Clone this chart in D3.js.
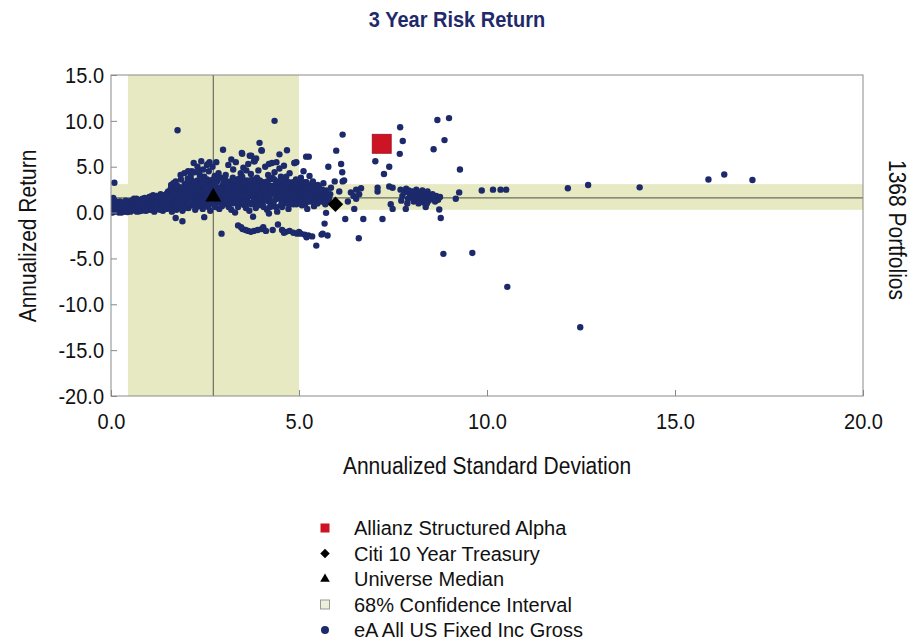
<!DOCTYPE html>
<html>
<head>
<meta charset="utf-8">
<script src="https://cdn.jsdelivr.net/npm/d3@7/dist/d3.min.js"></script>
<style>
  html, body { margin: 0; padding: 0; background: #fff; }
  svg { display: block; }
  text { font-family: "Liberation Sans", Arial, sans-serif; }
</style>
</head>
<body>
<svg id="chart" width="913" height="644"></svg>
<script>
// ---------- DATA ----------
const chartTitle = "3 Year Risk Return";
const xTicks = [0, 5, 10, 15, 20];
const yTicks = [15, 10, 5, 0, -5, -10, -15, -20];
const xLabel = "Annualized Standard Deviation";
const yLabel = "Annualized Return";
const sideLabel = "1368 Portfolios";

// [annualized std dev, annualized return]
const allianz = [7.2, 7.5];
const citi = [5.97, 0.9];
const universeMedian = [2.72, 1.6];
const ciX = [0.45, 5.0];     // 68% confidence interval on std dev
const ciY = [0.3, 3.1];      // 68% confidence interval on return

const lowRiskBand = [
  [0.05,0.3],[0.08,0.6],[0.1,0.1],[0.12,0.9],[0.15,0.4],[0.18,0.7],[0.2,0.2],[0.22,1.0],[0.25,0.5],[0.28,0.0],
  [0.3,0.8],[0.32,0.3],[0.35,1.1],[0.38,0.6],[0.4,0.2],[0.42,0.9],[0.45,0.45],[0.48,1.2],[0.5,0.7],[0.09,3.25],
  [0.06,1.6],[0.1,1.3],[0.52,0.1],[0.55,0.95],[0.58,0.5],[0.6,1.3],[0.62,0.25],[0.65,0.8],[0.68,1.5],[0.7,0.4],
  [0.72,1.05],[0.75,0.15],[0.78,0.7],[0.8,1.4],[0.82,0.35],[0.85,1.0],[0.88,0.55],[0.9,1.6],[0.92,0.2],[0.95,0.85],
  [0.98,1.25],[1.0,0.45],[1.02,1.7],[1.05,0.3],[1.08,1.1],[1.1,0.6],[1.12,1.9],[1.15,0.1],[1.18,1.4],[1.2,0.8],
  [1.22,0.35],[1.25,1.6],[1.28,1.0],[1.3,0.5],[1.32,2.0],[1.35,1.25],[1.38,0.2],[1.4,0.75],[1.42,1.8],[1.45,1.05],
  [1.48,0.4],[1.5,1.5],
  [0.03,0.8],[0.07,0.2],[0.13,0.5],[0.17,1.1],[0.23,0.3],[0.27,0.8],[0.33,0.55],[0.37,0.15],[0.43,0.65],[0.47,0.3],
  [0.53,0.6],[0.57,1.1],[0.63,0.7],[0.67,0.3],[0.73,0.6],[0.77,1.15],[0.83,0.8],[0.87,0.3],[0.93,1.1],[0.97,0.6],
  [1.03,0.9],[1.07,1.4],[1.13,0.6],[1.17,1.0],[1.23,1.3],[1.27,0.6],[1.33,0.9],[1.37,1.6],[1.43,1.3],[1.47,0.8],
  [0.02,0.5],[0.04,0.0],[0.06,1.0],[0.11,0.7],[0.14,0.2],[0.16,0.85],[0.19,0.45],[0.21,0.0],[0.24,1.2],[0.26,0.65],
  [0.29,0.35],[0.31,1.0],[0.34,0.1],[0.36,0.75],[0.39,1.3],[0.41,0.45],[0.44,0.05],[0.46,1.0],[0.49,0.55],[0.51,0.3],
  [0.54,1.3],[0.56,0.4],[0.59,0.85],[0.61,1.5],[0.64,0.5],[0.66,1.15],[0.69,0.1],[0.71,0.8],[0.74,1.35],[0.76,0.45],
  [0.79,1.0],[0.81,0.2],[0.84,1.5],[0.86,0.6],[0.89,1.2],[0.91,0.4],[0.94,1.45],[0.96,0.25],[0.99,0.95],[1.01,1.5],
  [1.04,0.6],[1.06,1.75],[1.09,0.4],[1.11,1.25],[1.14,1.7],[1.16,0.45],[1.19,1.1],[1.21,1.8],[1.24,0.55],[1.26,1.15],
  [1.29,1.75],[1.31,0.3],[1.34,1.4],[1.36,0.7],[1.39,1.9],[1.41,1.1],[1.44,0.5],[1.46,1.6],[1.49,2.1],[1.51,0.8]
];

const coreCloud = [
  [1.52,2.3],[1.55,0.6],[1.58,1.2],[1.6,3.0],[1.62,0.1],[1.63,1.8],[1.65,2.6],[1.68,0.9],[1.7,1.5],[1.72,3.4],
  [1.74,0.3],[1.76,2.1],[1.78,1.1],[1.8,2.8],[1.82,0.7],[1.84,1.9],[1.86,3.6],[1.88,1.3],[1.9,0.2],[1.92,2.4],
  [1.94,1.6],[1.96,3.1],[1.98,0.8],[2.0,2.0],
  [2.02,1.2],[2.04,3.7],[2.06,0.5],[2.08,2.6],[2.1,1.8],[2.12,4.0],[2.14,0.9],[2.16,3.0],[2.18,2.2],[2.2,1.4],
  [2.22,4.4],[2.24,0.3],[2.26,2.9],[2.28,1.7],[2.3,3.5],[2.32,0.7],[2.34,2.4],[2.36,4.1],[2.38,1.1],[2.4,3.2],
  [2.42,1.9],[2.44,0.4],[2.46,2.7],[2.48,3.9],[2.5,1.5],
  [2.52,2.1],[2.54,0.8],[2.56,3.6],[2.58,1.3],[2.6,4.5],[2.62,2.6],[2.64,0.2],[2.66,1.9],[2.68,3.1],[2.72,1.0],
  [2.74,2.8],[2.76,4.0],[2.78,0.6],[2.8,2.3],[2.82,3.4],[2.84,1.5],[2.86,4.3],[2.88,0.4],[2.9,2.0],[2.92,3.8],
  [2.94,1.2],[2.96,2.9],[2.6,1.6],[2.75,1.9],[2.85,2.5],
  [3.02,1.7],[3.05,4.1],[3.08,0.9],[3.1,2.9],[3.15,1.4],[3.18,3.4],[3.2,0.3],[3.22,2.2],[3.25,4.7],[3.28,1.1],
  [3.3,3.0],[3.35,1.9],[3.38,0.6],[3.4,3.7],[3.42,2.5],[3.45,4.3],[3.48,1.3],[3.5,2.8],[3.3,0.0],
  [3.55,0.8],[3.58,2.1],[3.6,3.5],[3.62,1.5],[3.68,0.2],[3.7,2.7],[3.72,4.2],[3.75,1.1],[3.78,3.1],[3.82,1.9],
  [3.85,0.5],[3.88,3.8],[3.9,2.3],[3.92,4.6],[3.95,1.4],[3.98,2.9],
  [4.02,0.9],[4.05,3.3],[4.08,1.7],[4.12,2.5],[4.15,0.3],[4.18,4.1],[4.2,1.2],[4.22,3.6],[4.25,2.0],[4.3,0.7],
  [4.32,2.9],[4.35,4.4],[4.38,1.5],[4.4,3.2],[4.42,0.1],[4.45,2.4],
  [4.5,1.8],[4.52,3.9],[4.55,0.6],[4.58,2.7],[4.62,1.3],[4.65,3.4],[4.7,2.1],[4.72,0.4],[4.75,4.3],[4.78,1.6],
  [4.8,3.0],[4.82,2.4],[4.85,0.9],[4.9,1.9],[4.92,3.6],[4.95,2.7],[4.98,1.2],
  [5.02,2.2],[5.05,3.8],[5.08,0.8],[5.1,1.6],[5.12,4.5],[5.15,2.9],[5.18,1.1],[5.2,3.3],[5.22,0.4],[5.25,2.0],
  [5.28,4.0],[5.3,1.4],[5.35,2.6],[5.4,0.7],[5.45,1.8],[5.5,3.0],
  [5.55,2.4],[5.6,1.2],[5.65,3.2],[5.7,0.9],[5.75,2.0],[5.8,1.6],[5.85,2.7],[5.9,1.0],[5.95,3.4],
  [1.53,1.0],[1.57,1.7],[1.61,2.1],[1.67,1.4],[1.71,2.5],[1.75,1.7],[1.79,0.5],[1.83,2.4],[1.87,1.8],[1.91,1.1],
  [1.95,2.7],[1.99,1.6],[2.03,2.3],[2.07,1.6],[2.11,2.9],[2.13,0.8],[2.17,1.9],[2.21,2.5],[2.25,1.3],[2.29,2.1],
  [2.33,3.1],[2.37,1.7],[2.41,2.6],[2.45,1.2],[2.49,2.3],[2.53,3.0],[2.57,1.7],[2.61,2.3],[2.65,3.3],[2.69,1.4],
  [2.73,2.2],[2.77,3.0],[2.81,1.8],[2.83,1.1],[2.87,2.7],[2.91,1.6],[2.95,2.3],[2.99,3.3],
  [3.03,2.4],[3.07,1.2],[3.11,2.0],[3.14,3.2],[3.17,2.6],[3.21,1.6],[3.24,3.8],[3.27,2.2],[3.31,1.5],[3.34,2.7],
  [3.37,3.3],[3.41,1.7],[3.44,2.2],[3.47,3.4],[3.51,1.9],[3.54,2.5],[3.57,3.1],[3.61,2.2],[3.64,1.1],[3.67,3.0],
  [3.71,1.8],[3.74,2.4],[3.77,3.6],[3.81,1.4],[3.84,2.6],[3.87,2.0],[3.91,3.2],[3.94,1.7],[3.97,2.2],
  [4.01,2.6],[4.04,1.4],[4.07,2.1],[4.11,3.0],[4.14,1.9],[4.17,2.6],[4.21,1.6],[4.24,2.9],[4.27,1.0],[4.31,2.3],
  [4.34,3.6],[4.37,2.1],[4.41,1.5],[4.44,2.9],[4.47,2.0],[4.51,3.2],[4.54,1.4],[4.57,2.3],[4.61,3.0],[4.64,2.0],
  [4.67,1.0],[4.71,2.9],[4.74,1.5],[4.77,2.5],[4.81,1.3],[4.84,3.3],[4.87,2.1],[4.91,1.5],[4.94,2.5],[4.97,3.1],
  [5.01,1.6],[5.04,2.8],[5.07,1.9],[5.11,2.4],[5.14,1.5],[5.17,3.3],[5.21,2.4],[5.24,1.7],[5.27,3.0],[5.31,2.1],
  [5.34,1.2],[5.38,2.9],[5.42,2.3],[5.47,1.3],[5.52,2.0],[5.58,1.7],[5.64,2.1],[5.7,1.5],
  [1.54,1.4],[1.59,2.6],[1.64,0.4],[1.66,3.2],[1.69,2.0],[1.73,1.0],[1.77,2.9],[1.81,1.5],[1.85,0.5],[1.89,2.7],
  [1.93,1.9],[1.97,0.5],[2.01,3.2],[2.05,1.0],[2.09,2.3],[2.15,3.5],[2.19,1.0],[2.23,3.3],[2.27,0.6],[2.31,2.6],
  [2.35,1.4],[2.39,3.7],[2.43,2.2],[2.47,0.9],[2.51,3.4],[2.55,1.9],[2.59,0.6],[2.63,2.9],[2.67,1.1],[2.71,3.6],
  [2.75,0.8],[2.79,2.6],[2.83,3.9],[2.87,1.3],[2.91,2.4],[2.95,0.7],[2.99,1.9],
  [3.04,3.6],[3.09,2.6],[3.13,0.6],[3.16,1.9],[3.19,2.9],[3.23,1.0],[3.26,2.6],[3.29,3.5],[3.33,2.1],[3.36,1.1],
  [3.39,2.9],[3.43,0.9],[3.46,1.9],[3.49,3.9],[3.53,1.2],[3.56,3.3],[3.59,0.5],[3.63,2.7],[3.66,1.8],[3.69,3.5],
  [3.73,0.9],[3.76,2.0],[3.79,2.8],[3.83,3.3],[3.86,1.1],[3.89,2.5],[3.93,0.8],[3.96,3.5],[3.99,1.9],[4.03,3.0],
  [4.06,0.6],[4.09,2.7],[4.13,1.3],[4.16,3.4],[4.19,2.2],[4.23,0.6],[4.26,2.5],[4.29,3.8],[4.33,1.2],[4.36,2.7],
  [4.39,0.6],[4.43,3.4],[4.46,1.7],[4.49,2.6],[4.53,0.9],[4.56,3.6],[4.59,1.9],[4.63,2.6],[4.66,3.9],[4.69,1.6],
  [4.73,3.3],[4.76,0.9],[4.79,2.1],[4.83,2.8],[4.86,1.7],[4.89,3.0],[4.93,0.9],[4.96,2.2],[4.99,3.5],[5.03,1.1],
  [5.06,2.5],[5.09,3.3],[5.13,1.9],[5.16,0.9],[5.19,2.7],[5.23,2.1],[5.26,1.2],[5.29,2.6],[5.33,1.8],[5.37,3.4],
  [5.41,1.6],[5.44,2.6],[5.49,1.0],[5.53,2.7],[5.57,1.3],[5.62,2.5],[5.67,1.8],[5.73,2.4],[5.78,1.2],[5.83,2.0]
];

const upperScatter = [
  [1.77,8.97],[2.35,4.6],[2.15,4.5],[2.45,4.7],[2.7,5.0],[2.98,6.85],[3.12,5.2],[3.32,5.5],[3.48,6.5],[3.2,5.8],
  [3.52,4.9],[3.65,5.3],[3.8,5.6],[3.69,6.2],[3.86,5.9],[3.95,7.6],[4.01,6.75],[4.1,5.0],[4.28,5.4],[4.48,4.8],
  [4.35,10.0],[4.48,6.35],[4.6,5.1],[4.68,6.8],[4.88,5.4],[5.26,6.1],[5.19,6.1],[5.78,5.0],[5.99,6.75],
  [1.85,4.1],[1.95,4.3],[2.05,4.5],[2.2,5.4],[2.3,5.0],[2.4,5.6],[2.55,5.2],[2.62,5.5],[2.58,5.3],[2.8,5.5],
  [3.49,6.4],[3.73,6.2],[4.0,6.8],[3.6,4.6],[3.82,5.6],[4.2,5.3],[4.4,5.5],[4.93,5.5],[4.88,5.4],
  [6.12,5.3],[6.15,4.4],[6.16,3.4],[6.2,3.5],[6.16,8.5]
];

const lowerScatter = [
  [1.72,-0.6],[1.9,-0.95],[2.48,-0.5],[2.94,-2.3],[3.38,-1.4],[3.5,-1.8],[3.65,-2.0],[3.8,-2.0],[3.78,-0.45],
  [3.58,-1.9],[3.72,-2.1],[3.9,-1.9],[4.0,-1.8],[4.05,-1.6],[4.2,-0.1],[4.44,-1.3],[4.12,-2.0],[4.55,-1.9],
  [4.65,-2.1],[4.75,-2.0],[4.85,-2.2],[4.95,-2.3],[4.6,-2.2],[5.05,-2.3],[5.15,-2.4],[5.25,-2.5],[5.35,-2.6],
  [5.2,-2.7],[5.46,-3.6],[5.72,-0.03],[5.68,-1.2],[5.63,-2.3],[5.76,-2.5],[5.6,-2.4],[6.23,-0.7],[6.71,-0.7],
  [6.59,-2.8],[7.22,-0.7],[3.46,-1.6],[4.3,-1.9],[5.0,-2.1]
];

const highRiskCluster = [
  [6.07,2.3],[6.38,2.2],[6.52,2.5],[6.65,2.65],[6.52,1.5],[6.47,0.4],[6.45,1.8],[6.3,1.2],[6.6,2.0],
  [7.03,5.6],[7.4,5.0],[7.26,4.2],[7.09,2.7],[7.09,2.3],[7.4,2.85],[7.49,2.7],[7.44,0.9],[7.49,0.4],
  [7.69,9.3],[7.76,7.8],[7.68,6.4],[7.7,2.5],[7.75,1.8],[7.8,2.2],[7.72,1.3],[7.84,0.4],[7.85,2.6],[7.9,1.5],
  [7.95,2.0],[7.88,1.0],[7.92,2.4],[8.0,1.7],[8.02,2.3],[8.05,1.2],[8.08,2.0],[8.1,1.5],[8.12,2.5],[8.15,1.8],
  [8.18,1.0],[8.2,2.2],[8.22,1.4],[8.25,1.9],[8.28,2.4],[8.3,1.6],[8.32,1.1],[8.35,2.1],[8.37,0.6],[8.4,1.7],
  [8.42,2.3],[8.45,1.3],[8.48,1.9],[8.5,1.5],[8.55,2.0],[8.6,1.6],[8.65,1.8],[8.7,1.4],[8.75,1.7],[8.73,0.33],
  [8.77,-0.6],[8.62,1.2],[8.4,1.0],[8.68,10.1],[8.99,10.3],[8.87,7.9],[8.58,6.9]
];

const outliers = [
  [8.84,-4.5],[9.28,4.7],[9.26,2.2],[9.17,1.5],[9.86,2.4],[10.16,2.5],[10.36,2.5],[10.51,2.5],[12.15,2.65],
  [12.69,3.0],[14.06,2.75],[15.89,3.6],[16.31,4.15],[17.06,3.55],[9.61,-4.4],[10.54,-8.1],[12.48,-12.5]
];

const legendItems = [
  { label: "Allianz Structured Alpha", kind: "square" },
  { label: "Citi 10 Year Treasury", kind: "diamond" },
  { label: "Universe Median", kind: "triangle" },
  { label: "68% Confidence Interval", kind: "band" },
  { label: "eA All US Fixed Inc Gross", kind: "circle" }
];

// ---------- STYLE ----------
const navy = "#1c2a6b";
const bandColor = "#e7e9c3";
const red = "#cc1424";
const stretch = 1.12; // reference text is slightly taller than it is wide

// ---------- DRAW ----------
const svg = d3.select("#chart");
const plot = { left: 111, right: 863, top: 75, bottom: 396 };

const x = d3.scaleLinear().domain([0, 20]).range([plot.left, plot.right]);
const y = d3.scaleLinear().domain([-20, 15]).range([plot.bottom, plot.top]);
const fmt = d => d.toFixed(1);

function label(tx, ty, rot, size, txt, opts = {}) {
  const t = svg.append("text")
    .attr("transform", `translate(${tx},${ty}) rotate(${rot}) scale(1,${stretch})`)
    .attr("text-anchor", opts.anchor || "middle")
    .attr("font-size", size)
    .attr("fill", opts.fill || "#111")
    .text(txt);
  if (opts.bold) t.attr("font-weight", "bold");
  return t;
}

// title
label(457, 27, 0, 20, chartTitle, { bold: true, fill: "#1f2a6a" });

const clipId = "plotclip";
svg.append("clipPath").attr("id", clipId).append("rect")
  .attr("x", plot.left).attr("y", plot.top)
  .attr("width", plot.right - plot.left).attr("height", plot.bottom - plot.top);

const inner = svg.append("g").attr("clip-path", `url(#${clipId})`);

// confidence bands
inner.append("rect")
  .attr("x", x(ciX[0])).attr("y", plot.top)
  .attr("width", x(ciX[1]) - x(ciX[0])).attr("height", plot.bottom - plot.top)
  .attr("fill", bandColor);
inner.append("rect")
  .attr("x", x(ciX[1])).attr("y", y(ciY[1]))
  .attr("width", plot.right - x(ciX[1])).attr("height", y(ciY[0]) - y(ciY[1]))
  .attr("fill", bandColor);
inner.append("rect")
  .attr("x", plot.left).attr("y", y(ciY[1]))
  .attr("width", x(ciX[0]) - plot.left).attr("height", y(ciY[0]) - y(ciY[1]))
  .attr("fill", bandColor);

// median lines
inner.append("line")
  .attr("x1", x(universeMedian[0])).attr("x2", x(universeMedian[0]))
  .attr("y1", plot.top).attr("y2", plot.bottom)
  .attr("stroke", "#55584a").attr("stroke-width", 1);
inner.append("line")
  .attr("x1", plot.left).attr("x2", plot.right)
  .attr("y1", y(universeMedian[1])).attr("y2", y(universeMedian[1]))
  .attr("stroke", "#6b6e5c").attr("stroke-width", 1.2);

// portfolios
const portfolios = [].concat(lowRiskBand, coreCloud, upperScatter, lowerScatter, highRiskCluster, outliers);
inner.append("g").selectAll("circle")
  .data(portfolios)
  .join("circle")
  .attr("cx", d => x(d[0]))
  .attr("cy", d => y(d[1]))
  .attr("r", 3.2)
  .attr("fill", navy);

// universe median triangle
inner.append("path")
  .attr("d", d3.symbol(d3.symbolTriangle, 110)())
  .attr("transform", `translate(${x(universeMedian[0])},${y(universeMedian[1]) - 1})`)
  .attr("fill", "#000");

// citi diamond (rotated square)
inner.append("path")
  .attr("d", d3.symbol(d3.symbolSquare, 120)())
  .attr("transform", `translate(${x(citi[0])},${y(citi[1])}) rotate(45)`)
  .attr("fill", "#000");

// allianz square
const sq = 19;
inner.append("rect")
  .attr("x", x(allianz[0]) - sq / 2).attr("y", y(allianz[1]) - sq / 2)
  .attr("width", sq).attr("height", sq)
  .attr("fill", red).attr("stroke", "#9a1020").attr("stroke-width", 0.8);

// axes
const yAxis = d3.axisLeft(y).tickValues(yTicks).tickFormat(fmt)
  .tickSize(-6).tickPadding(7);
const yg = svg.append("g").attr("transform", `translate(${plot.left},0)`).call(yAxis);
yg.select(".domain").remove();
yg.selectAll(".tick line").attr("stroke", "#888");
yg.selectAll(".tick text")
  .attr("font-size", 20).attr("fill", "#111")
  .attr("font-family", "'Liberation Sans', Arial, sans-serif")
  .attr("transform", `scale(1,${stretch})`);

const xAxis = d3.axisBottom(x).tickValues(xTicks).tickFormat(fmt)
  .tickSize(-6).tickPadding(15);
const xg = svg.append("g").attr("transform", `translate(0,${plot.bottom})`).call(xAxis);
xg.select(".domain").remove();
xg.selectAll(".tick line").attr("stroke", "#888");
xg.selectAll(".tick text")
  .attr("font-size", 20).attr("fill", "#111")
  .attr("font-family", "'Liberation Sans', Arial, sans-serif")
  .attr("transform", `scale(1,${stretch})`);

// frame
svg.append("rect")
  .attr("x", plot.left).attr("y", plot.top)
  .attr("width", plot.right - plot.left).attr("height", plot.bottom - plot.top)
  .attr("fill", "none").attr("stroke", "#8a8a8a").attr("stroke-width", 1);

// axis titles
label(487, 474, 0, 21, xLabel);
label(36, 236, -90, 21, yLabel);
label(889, 230, 90, 21, sideLabel);

// legend
const legend = svg.append("g");
const lx = 325, ly0 = 528, lstep = 25.5;
legendItems.forEach((item, i) => {
  const cy = ly0 + i * lstep;
  const row = legend.append("g");
  if (item.kind === "square") {
    row.append("rect").attr("x", lx - 4.5).attr("y", cy - 4.5).attr("width", 9).attr("height", 9).attr("fill", red);
  } else if (item.kind === "diamond") {
    row.append("path").attr("d", d3.symbol(d3.symbolSquare, 45)()).attr("transform", `translate(${lx},${cy}) rotate(45)`).attr("fill", "#000");
  } else if (item.kind === "triangle") {
    row.append("path").attr("d", d3.symbol(d3.symbolTriangle, 40)()).attr("transform", `translate(${lx},${cy})`).attr("fill", "#000");
  } else if (item.kind === "band") {
    row.append("rect").attr("x", lx - 4.5).attr("y", cy - 4.5).attr("width", 9).attr("height", 9)
      .attr("fill", "#eeeedd").attr("stroke", "#999").attr("stroke-width", 1);
  } else {
    row.append("circle").attr("cx", lx).attr("cy", cy).attr("r", 4).attr("fill", navy);
  }
  row.append("text").attr("x", lx + 29).attr("y", cy + 7)
    .attr("font-size", 20).attr("fill", "#111").text(item.label);
});
</script>
</body>
</html>
